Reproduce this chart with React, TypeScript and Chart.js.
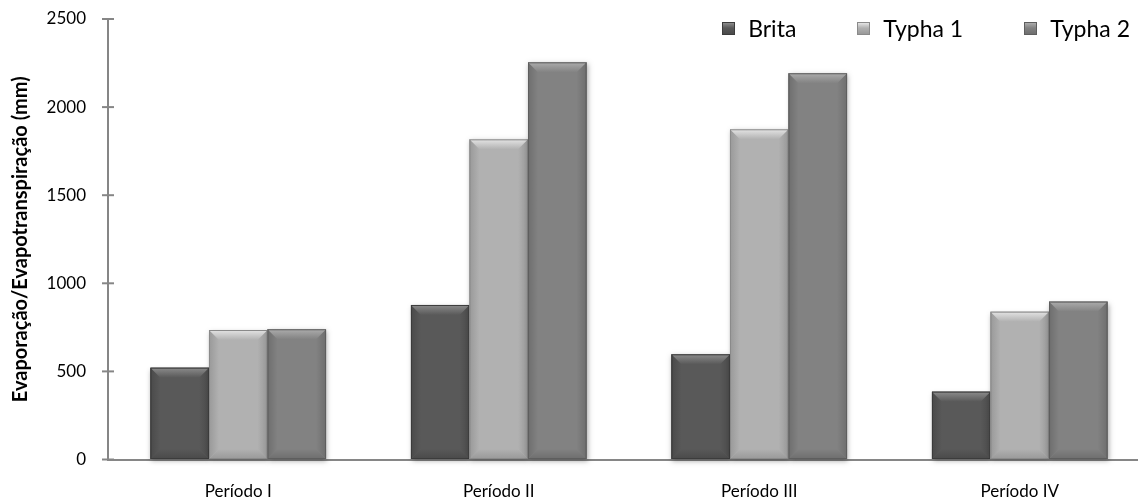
import React, { useEffect, useRef } from "react";
import { Chart, registerables } from "chart.js";
Chart.register(...registerables);

const categories = ["Período I", "Período II", "Período III", "Período IV"];
const seriesNames = ["Brita", "Typha 1", "Typha 2"];
const brita = [521, 877, 597, 385];
const typha1 = [735, 1817, 1874, 839];
const typha2 = [739, 2254, 2192, 896];
const yMin = 0;
const yMax = 2500;
const yStep = 500;
const yTitle = "Evaporação/Evapotranspiração (mm)";

const bodyColors = ["#595959", "#b1b1b1", "#828282"];
const topColors = ["#8c8c8c", "#e4e4e4", "#acacac"];
const sideColors = ["#4a4a4a", "#999999", "#6e6e6e"];
const edgeColors = ["#3c3c3c", "#8a8a8a", "#5e5e5e"];

const FONT = "Lato, 'Open Sans', sans-serif";

const bevelPlugin = {
  id: "bevel",
  afterDatasetsDraw(chart: any) {
    const ctx = chart.ctx;
    ctx.save();
    chart.data.datasets.forEach((ds: any, di: number) => {
      const meta = chart.getDatasetMeta(di);
      meta.data.forEach((el: any) => {
        const p = el.getProps(["x", "y", "base", "width"], true);
        const l = p.x - p.width / 2;
        const r = p.x + p.width / 2;
        const t = p.y;
        const b = p.base;
        const w = r - l;
        const h = b - t;
        const bv = Math.min(10, h / 2, w / 2);
        ctx.save();
        ctx.shadowColor = "rgba(0,0,0,0.35)";
        ctx.shadowBlur = 5;
        ctx.shadowOffsetX = 1;
        ctx.shadowOffsetY = 2;
        ctx.fillStyle = bodyColors[di];
        ctx.fillRect(l, t, w, h);
        ctx.restore();
        const sg = ctx.createLinearGradient(l, 0, l + bv, 0);
        sg.addColorStop(0, sideColors[di]);
        sg.addColorStop(1, bodyColors[di]);
        ctx.fillStyle = sg;
        ctx.beginPath();
        ctx.moveTo(l, t); ctx.lineTo(l + bv, t + bv); ctx.lineTo(l + bv, b - bv); ctx.lineTo(l, b);
        ctx.closePath(); ctx.fill();
        const rg = ctx.createLinearGradient(r, 0, r - bv, 0);
        rg.addColorStop(0, sideColors[di]);
        rg.addColorStop(1, bodyColors[di]);
        ctx.fillStyle = rg;
        ctx.beginPath();
        ctx.moveTo(r, t); ctx.lineTo(r - bv, t + bv); ctx.lineTo(r - bv, b - bv); ctx.lineTo(r, b);
        ctx.closePath(); ctx.fill();
        const tg = ctx.createLinearGradient(0, t, 0, t + bv);
        tg.addColorStop(0, topColors[di]);
        tg.addColorStop(1, bodyColors[di]);
        ctx.fillStyle = tg;
        ctx.beginPath();
        ctx.moveTo(l, t); ctx.lineTo(r, t); ctx.lineTo(r - bv, t + bv); ctx.lineTo(l + bv, t + bv);
        ctx.closePath(); ctx.fill();
        const bg = ctx.createLinearGradient(0, b, 0, b - bv);
        bg.addColorStop(0, sideColors[di]);
        bg.addColorStop(1, bodyColors[di]);
        ctx.fillStyle = bg;
        ctx.beginPath();
        ctx.moveTo(l, b); ctx.lineTo(r, b); ctx.lineTo(r - bv, b - bv); ctx.lineTo(l + bv, b - bv);
        ctx.closePath(); ctx.fill();
        ctx.strokeStyle = edgeColors[di];
        ctx.lineWidth = 1;
        ctx.strokeRect(l + 0.5, t + 0.5, w - 1, h - 1);
      });
    });
    ctx.restore();
  },
  afterDraw(chart: any) {
    const ys = chart.scales.y;
    const ctx = chart.ctx;
    ctx.save();
    ctx.strokeStyle = "#868686";
    ctx.lineWidth = 2;
    ys.ticks.forEach((tk: any) => {
      const yy = ys.getPixelForValue(tk.value);
      ctx.beginPath();
      ctx.moveTo(chart.chartArea.left - 6, yy);
      ctx.lineTo(chart.chartArea.left + 6, yy);
      ctx.stroke();
    });
    ctx.restore();
  },
};

export default function App() {
  const ref = useRef<HTMLCanvasElement | null>(null);
  useEffect(() => {
    if (!ref.current) return;
    const series = [brita, typha1, typha2];
    const chart = new Chart(ref.current, {
      type: "bar",
      data: {
        labels: categories,
        datasets: series.map((d, i) => ({
          label: seriesNames[i],
          data: d,
          backgroundColor: bodyColors[i],
          borderWidth: 0,
          categoryPercentage: 0.674,
          barPercentage: 1,
        })),
      },
      options: {
        responsive: false,
        animation: false,
        layout: { padding: { top: 19, right: 0, bottom: 0, left: 0 } },
        plugins: { legend: { display: false }, tooltip: { enabled: false } },
        scales: {
          x: {
            grid: { display: true, drawOnChartArea: false, drawTicks: false },
            border: { color: "#868686", width: 2 },
            ticks: { padding: 22, color: "#000", font: { family: FONT, size: 17 } },
            afterFit: (s: any) => { s.height = 41.5; },
          },
          y: {
            min: yMin,
            max: yMax,
            ticks: {
              stepSize: yStep,
              padding: 0,
              color: "#000",
              font: { family: FONT, size: 17 },
              callback: (v: any) => String(v),
            },
            grid: { drawOnChartArea: false, tickLength: 22, color: "rgba(0,0,0,0)" },
            border: { color: "#868686", width: 2 },
            title: {
              display: true,
              text: yTitle,
              color: "#000",
              font: { family: FONT, size: 20, weight: "bold" },
              padding: { top: 9, bottom: 0 },
            },
            afterFit: (s: any) => { s.width = 108; },
          },
        },
      },
      plugins: [bevelPlugin],
    });
    return () => chart.destroy();
  }, []);

  return (
    <div style={{ position: "absolute", left: 0, top: 0, width: 1138, height: 501, overflow: "hidden", background: "#fff" }}>
      <canvas ref={ref} width={1150} height={501} style={{ display: "block" }} />
      <div
        style={{
          position: "absolute",
          top: 17,
          right: 8,
          display: "flex",
          gap: 61,
          fontFamily: FONT,
          fontSize: 23,
          lineHeight: "23px",
          color: "#000",
        }}
      >
        {seriesNames.map((n, i) => (
          <div key={n} style={{ display: "flex", alignItems: "center" }}>
            <span
              style={{
                display: "inline-block",
                width: 11,
                height: 11,
                marginRight: 13,
                background: `linear-gradient(180deg, ${topColors[i]} 0%, ${bodyColors[i]} 45%, ${sideColors[i]} 100%)`,
                border: `1px solid ${edgeColors[i]}`,
              }}
            />
            <span>{n}</span>
          </div>
        ))}
      </div>
    </div>
  );
}
